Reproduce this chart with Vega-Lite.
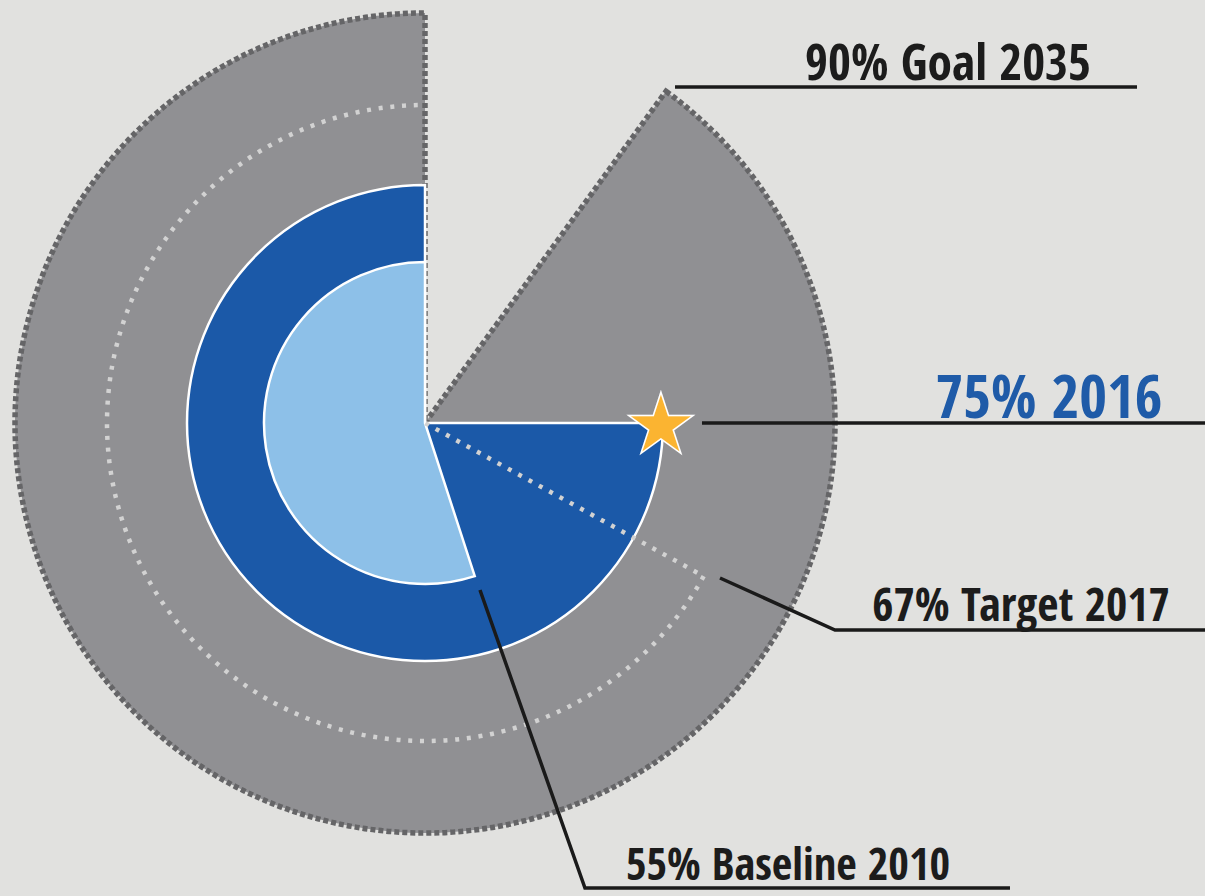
{
  "$schema": "https://vega.github.io/schema/vega-lite/v6.json",
  "width": 850,
  "height": 846,
  "autosize": {"type": "none"},
  "padding": {"left": 0, "top": 0, "right": 355, "bottom": 50},
  "background": "#e1e1df",
  "config": {"view": {"stroke": null}},
  "datasets": {
    "levels": [
      {"series": "Baseline 2010", "pct": 55, "ring": 1, "label": "55% Baseline 2010", "lx": 88.54, "ly": -111.46},
      {"series": "2016", "pct": 75, "ring": 2, "label": "75% 2016", "lx": 152.2, "ly": 1.22},
      {"series": "Target 2017", "pct": 67, "ring": 3, "label": "67% Target 2017", "lx": 145.37, "ly": -48.29},
      {"series": "Goal 2035", "pct": 90, "ring": 4, "label": "90% Goal 2035", "lx": 127.56, "ly": 83.66}
    ],
    "leaders": [
      {"series": "Goal 2035", "seq": 1, "x": 60.98, "y": 81.95},
      {"series": "Goal 2035", "seq": 2, "x": 173.66, "y": 81.95},
      {"series": "2016", "seq": 1, "x": 67.56, "y": 0},
      {"series": "2016", "seq": 2, "x": 191.5, "y": 0},
      {"series": "Target 2017", "seq": 1, "x": 71.95, "y": -37.8},
      {"series": "Target 2017", "seq": 2, "x": 100.0, "y": -50.49},
      {"series": "Target 2017", "seq": 3, "x": 191.5, "y": -50.49},
      {"series": "Baseline 2010", "seq": 1, "x": 13.41, "y": -40.73},
      {"series": "Baseline 2010", "seq": 2, "x": 39.02, "y": -113.41},
      {"series": "Baseline 2010", "seq": 3, "x": 142.68, "y": -113.41}
    ]
  },
  "layer": [
    {
      "data": {"name": "levels"},
      "transform": [{"filter": "datum.series === 'Goal 2035'"}],
      "mark": {"type": "arc", "fill": "#909093", "stroke": "#656567", "strokeWidth": 5.5, "strokeDash": [5, 3]},
      "encoding": {
        "theta": {"field": "pct", "type": "quantitative", "scale": {"domain": [0, 100], "range": [6.283185307, 0]}},
        "theta2": {"datum": 0},
        "radius": {"field": "ring", "type": "quantitative", "scale": {"type": "linear", "domain": [0, 1, 2, 3, 4], "range": [0, 161, 238, 318, 410]}},
        "radius2": {"datum": 0}
      }
    },
    {
      "data": {"name": "levels"},
      "transform": [{"filter": "datum.series === '2016'"}],
      "mark": {"type": "arc", "fill": "#1b59a8", "stroke": "#ffffff", "strokeWidth": 2.5},
      "encoding": {
        "theta": {"field": "pct", "type": "quantitative"},
        "theta2": {"datum": 0},
        "radius": {"field": "ring", "type": "quantitative"},
        "radius2": {"datum": 0}
      }
    },
    {
      "data": {"name": "levels"},
      "transform": [{"filter": "datum.series === 'Baseline 2010'"}],
      "mark": {"type": "arc", "fill": "#8dc0e8", "stroke": "#ffffff", "strokeWidth": 2.5},
      "encoding": {
        "theta": {"field": "pct", "type": "quantitative"},
        "theta2": {"datum": 0},
        "radius": {"field": "ring", "type": "quantitative"},
        "radius2": {"datum": 0}
      }
    },
    {
      "data": {"name": "levels"},
      "transform": [{"filter": "datum.series === 'Target 2017'"}],
      "mark": {"type": "arc", "fill": "transparent", "stroke": "#d2d2d2", "strokeWidth": 4.5, "strokeCap": "butt", "strokeDash": [
        4,7.7429,4,7.7429,4,7.7429,4,7.7429,4,7.7429,4,7.7429,4,7.7429,4,7.7429,4,7.7429,4,7.7429,
        4,7.7429,4,7.7429,4,7.7429,4,7.7429,4,7.7429,4,7.7429,4,7.7429,4,7.7429,4,7.7429,4,7.7429,
        4,7.7429,4,7.7429,4,7.7429,4,7.7429,4,7.7429,4,7.7429,4,7.7429,4,7.7429,4,7.7429,4,7.7429,
        4,7.7429,4,7.7429,4,7.7429,4,7.7429,4,7.7429,4,7.7429,4,7.7429,4,7.7429,4,7.7429,4,7.7429,
        4,7.7429,4,7.7429,4,7.7429,4,7.7429,4,7.7429,4,7.7429,4,7.7429,4,7.7429,4,7.7429,4,7.7429,
        4,7.7429,4,7.7429,4,7.7429,4,7.7429,4,7.7429,4,7.7429,4,7.7429,4,7.7429,4,7.7429,4,7.7429,
        4,7.7429,4,7.7429,4,7.7429,4,7.7429,4,7.7429,4,7.7429,4,7.7429,4,7.7429,4,7.7429,4,7.7429,
        4,7.7429,4,7.7429,4,7.7429,4,7.7429,4,7.7429,4,7.7429,4,7.7429,4,7.7429,4,7.7429,4,7.7429,
        4,7.7429,4,7.7429,4,7.7429,4,7.7429,4,7.7429,4,7.7429,4,7.7429,4,7.7429,4,7.7429,4,7.7429,
        4,7.7429,4,7.7429,4,7.7429,4,7.7429,4,7.7429,4,7.7429,4,7.7429,4,7.7429,4,7.7429,4,7.7429,
        4,7.7429,4,7.7429,4,7.7429,4,7.7429,4,7.7429,4,7.7429,4,7.7429,4,7.7429,4,7.7429,4,7.7429,
        4,7.7429,4,7.7429,4,7.7429,
        4,325.75,
        4,7.7778,4,7.7778,4,7.7778,4,7.7778,4,7.7778,4,7.7778,4,7.7778,4,7.7778,4,7.7778,4,7.7778,
        4,7.7778,4,7.7778,4,7.7778,4,7.7778,4,7.7778,4,7.7778,4,7.7778,4,7.7778,4,7.7778,4,7.7778,
        4,7.7778,4,7.7778,4,7.7778,4,7.7778,4,7.7778,4,7.7778,4,7.7778
      ]},
      "encoding": {
        "theta": {"field": "pct", "type": "quantitative"},
        "theta2": {"datum": 0},
        "radius": {"field": "ring", "type": "quantitative"},
        "radius2": {"datum": 0}
      }
    },
    {
      "data": {"name": "leaders"},
      "mark": {"type": "line", "stroke": "#1a1a1a", "strokeWidth": 3.5},
      "encoding": {
        "x": {"field": "x", "type": "quantitative", "axis": null, "scale": {"domain": [-103.6585, 103.6585], "nice": false, "zero": false}},
        "y": {"field": "y", "type": "quantitative", "axis": null, "scale": {"domain": [-103.1707, 103.1707], "nice": false, "zero": false}},
        "detail": {"field": "series"},
        "order": {"field": "seq"}
      }
    },
    {
      "data": {"name": "levels"},
      "transform": [{"filter": "datum.series === '2016'"}],
      "mark": {"type": "text", "text": "★", "font": "DejaVu Sans", "fontSize": 84, "dy": 5, "dx": -2, "fill": "#fbb431", "stroke": "#ffffff", "strokeWidth": 1.5, "align": "center", "baseline": "middle"},
      "encoding": {
        "theta": {"field": "pct", "type": "quantitative"},
        "radius": {"field": "ring", "type": "quantitative"}
      }
    },
    {
      "data": {"name": "levels"},
      "mark": {"type": "text", "font": "Open Sans Condensed", "fontWeight": "bold", "align": "center", "baseline": "alphabetic"},
      "encoding": {
        "x": {"field": "lx", "type": "quantitative"},
        "y": {"field": "ly", "type": "quantitative"},
        "text": {"field": "label"},
        "color": {"condition": {"test": "datum.series === '2016'", "value": "#1f5ba8"}, "value": "#1c1c1c"},
        "size": {"condition": [
          {"test": "datum.series === '2016'", "value": 60},
          {"test": "datum.series === 'Goal 2035'", "value": 49.5},
          {"test": "datum.series === 'Target 2017'", "value": 46},
          {"test": "datum.series === 'Baseline 2010'", "value": 44.5}
        ], "value": 48}
      }
    }
  ]
}
